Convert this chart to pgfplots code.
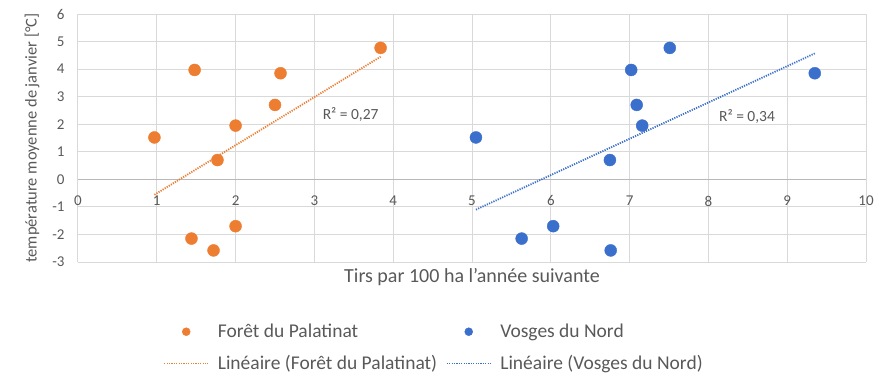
\documentclass[border=0pt]{standalone}
\usepackage{pgfplots}
\pgfplotsset{compat=1.18}
\usepackage{fontspec}
\setmainfont{Carlito}
\definecolor{xlorange}{HTML}{ED7D31}
\definecolor{xlblue}{HTML}{3B6FCC}
\definecolor{txtgray}{HTML}{595959}
\definecolor{gridgray}{HTML}{D9D9D9}
\pgfplotsset{
  dotlegend/.style={legend image code/.code={\draw[##1, mark size=4pt] plot coordinates {(22pt,0pt)};}},
  linelegend/.style={legend image code/.code={\draw[##1, line width=1.2pt] (0pt,0pt) -- (44pt,0pt);}},
}
\begin{document}
\begin{tikzpicture}
\begin{axis}[
  scale only axis, width=788pt, height=248pt,
  xmin=0, xmax=10, ymin=-3, ymax=6,
  xtick={0,1,...,10}, ytick={-3,-2,...,6},
  axis x line*=middle, axis y line*=left,
  hide obscured x ticks=false, hide obscured y ticks=false,
  x axis line style={draw=black!28, line width=1pt, -},
  y axis line style={draw=gridgray, line width=1pt, -},
  major tick length=0pt,
  grid=major, major grid style={draw=gridgray, line width=1pt},
  tick label style={font=\fontsize{15}{18}\selectfont, text=txtgray},
  /pgf/number format/assume math mode=true,
  xticklabel style={yshift=-13pt},
  yticklabel style={xshift=-10pt},
  clip=false,
  legend columns=2,
  legend style={draw=none, fill=none, font=\fontsize{19.5}{23}\selectfont, text=txtgray,
    at={(rel axis cs:0.452,0)}, anchor=north, yshift=-58pt,
    /tikz/every odd column/.append style={column sep=7pt},
    /tikz/every even column/.append style={column sep=7pt},
    row sep=12pt},
  legend cell align=left,
]
\addplot[only marks, mark=*, mark size=6pt, color=xlorange, mark options={draw=xlorange, fill=xlorange}, dotlegend] coordinates {
(0.97,1.52) (1.48,3.97) (2.57,3.85) (3.84,4.77) (2.50,2.70) (2.00,1.95) (1.77,0.70) (1.44,-2.15) (1.72,-2.58) (2.00,-1.70)
};
\addlegendentry{Forêt du Palatinat}
\addplot[only marks, mark=*, mark size=6pt, color=xlblue, mark options={draw=xlblue, fill=xlblue}, dotlegend] coordinates {
(5.05,1.52) (5.63,-2.15) (6.03,-1.70) (6.76,-2.58) (6.75,0.70) (7.02,3.97) (7.09,2.70) (7.16,1.95) (7.51,4.77) (9.35,3.85)
};
\addlegendentry{Vosges du Nord}
\addplot[no marks, color=xlorange, line width=1.8pt, dash pattern=on 1.2pt off 1.2pt, linelegend] coordinates {(0.97,-0.56) (3.84,4.45)};
\addlegendentry{Linéaire (Forêt du Palatinat)}
\addplot[no marks, color=xlblue, line width=1.8pt, dash pattern=on 1.2pt off 1.2pt, linelegend] coordinates {(5.05,-1.10) (9.35,4.57)};
\addlegendentry{Linéaire (Vosges du Nord)}
\node[font=\fontsize{15.5}{18}\selectfont, text=txtgray] at (axis cs:3.46,2.36) {R² = 0,27};
\node[font=\fontsize{15.5}{18}\selectfont, text=txtgray] at (axis cs:8.49,2.28) {R² = 0,34};
\node[font=\fontsize{20}{24}\selectfont, text=txtgray] at (rel axis cs:0.50,0) [below, yshift=-3pt] {Tirs par 100 ha l'année suivante};
\node[font=\fontsize{16.5}{20}\selectfont, text=txtgray, rotate=90, anchor=south] at ([xshift=-35pt]rel axis cs:0,0.5) {température moyenne de janvier [°C]};
\end{axis}
\pgfresetboundingbox
\path (-78pt,-115pt) rectangle (796pt,262pt);
\end{tikzpicture}
\end{document}
